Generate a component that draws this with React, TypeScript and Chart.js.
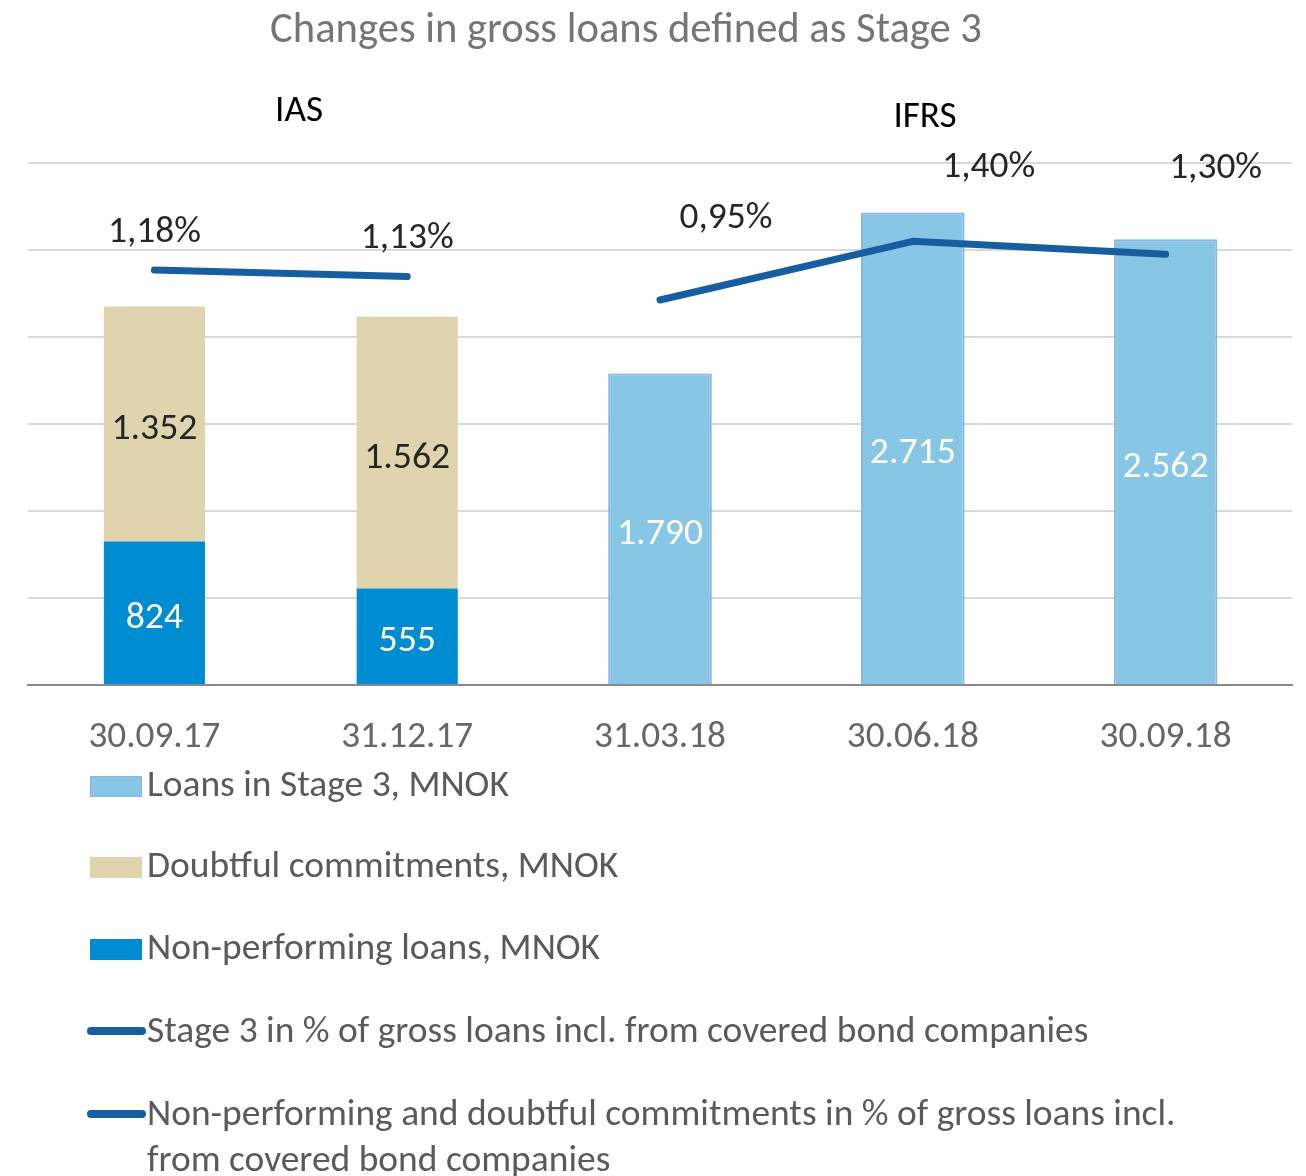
import React, { useEffect, useRef } from 'react';
import { Chart, registerables } from 'chart.js';

Chart.register(...registerables);

const FONT = 'Carlito, Lato, sans-serif';

// ---- data ----
const categories = ['30.09.17', '31.12.17', '31.03.18', '30.06.18', '30.09.18'];
const loansStage3 = [null, null, 1790, 2715, 2562];
const doubtfulCommitments = [1352, 1562, null, null, null];
const nonPerformingLoans = [824, 555, null, null, null];
const stage3Pct = [null, null, 0.95, 1.4, 1.3];
const npDoubtfulPct = [1.18, 1.13, null, null, null];

const yMin = 0;
const yMax = 3000;
const yStep = 500;
const pctMin = -2;
const pctMax = 2;

const chartTitle = 'Changes in gross loans defined as Stage 3';
const periodNames = ['IAS', 'IFRS'];

const labelLoans = 'Loans in Stage 3, MNOK';
const labelDoubtful = 'Doubtful commitments, MNOK';
const labelNpl = 'Non-performing loans, MNOK';
const labelStage3Pct = 'Stage 3 in % of gross loans incl. from covered bond companies';
const labelNpdPct =
  'Non-performing and doubtful commitments in % of gross loans incl. from covered bond companies';

// ---- styles ----
const C_LOANS = '#87c6e4';
const C_LOANS_BORDER = '#8db4e2';
const C_DOUBT = '#dfd4ae';
const C_NPL = '#008cd0';
const C_LINE = '#175ea0';
const C_GRID = '#d9d9d9';
const C_BASE = '#8a8a8a';
const C_TITLE = '#757575';
const C_TICK = '#666666';
const C_LEGEND = '#5a5a5a';
const C_DARK = '#262626';

const fmtInt = (v: number) => String(v).replace(/\B(?=(\d{3})+(?!\d))/g, '.');
const fmtPct = (v: number) => v.toFixed(2).replace('.', ',') + '%';

function fit(text: string, target: number): number {
  const c = document.createElement('canvas').getContext('2d')!;
  c.font = `100px ${FONT}`;
  return (100 * target) / c.measureText(text).width;
}

export default function App() {
  const ref = useRef<HTMLCanvasElement>(null);

  useEffect(() => {
    const s = {
      title: fit(chartTitle, 712),
      tick: fit('30.09.17', 132),
      bar: fit('1.352', 86),
      pct: fit('1,18%', 93),
      period: fit('IAS', 48),
      legend: fit(labelLoans, 362),
    };

    // label offsets for the percentage labels (relative to point, baseline)
    const pctOffsets = [
      [0, -28],
      [0, -29],
      [66, -72],
      [76, -64],
      [50, -76],
    ];

    const overlay = {
      id: 'overlay',
      afterDatasetsDraw(chart: any) {
        const ctx = chart.ctx as CanvasRenderingContext2D;
        ctx.save();
        ctx.textAlign = 'center';
        ctx.textBaseline = 'alphabetic';
        chart.data.datasets.forEach((ds: any, di: number) => {
          const meta = chart.getDatasetMeta(di);
          meta.data.forEach((el: any, i: number) => {
            const v = ds.data[i];
            if (v == null) return;
            if (meta.type === 'bar') {
              const p = el.getProps(['x', 'y', 'base'], true);
              ctx.font = `${s.bar}px ${FONT}`;
              ctx.fillStyle = ds.labelColor;
              ctx.fillText(fmtInt(v), p.x, (p.y + p.base) / 2 + 1.5 + 0.36 * s.bar);
            } else {
              const p = el.getProps(['x', 'y'], true);
              ctx.font = `${s.pct}px ${FONT}`;
              ctx.fillStyle = C_DARK;
              ctx.fillText(fmtPct(v), p.x + pctOffsets[i][0], p.y + pctOffsets[i][1]);
            }
          });
        });
        ctx.restore();
      },
      afterDraw(chart: any) {
        const ctx = chart.ctx as CanvasRenderingContext2D;
        ctx.save();
        ctx.textBaseline = 'alphabetic';
        // title
        ctx.textAlign = 'center';
        ctx.font = `${s.title}px ${FONT}`;
        ctx.fillStyle = C_TITLE;
        ctx.fillText(chartTitle, 626, 42);
        // period annotations
        ctx.font = `${s.period}px ${FONT}`;
        ctx.fillStyle = '#000000';
        ctx.fillText(periodNames[0], 299, 121);
        ctx.fillText(periodNames[1], 925, 127);

        // legend
        const items = [
          { label: labelLoans, kind: 'box', color: C_LOANS, border: C_LOANS_BORDER },
          { label: labelDoubtful, kind: 'box', color: C_DOUBT },
          { label: labelNpl, kind: 'box', color: C_NPL },
          { label: labelStage3Pct, kind: 'line', color: C_LINE },
          { label: labelNpdPct, kind: 'line', color: C_LINE },
        ];
        const baselines = [796, 877, 959, 1042, 1125];
        ctx.font = `${s.legend}px ${FONT}`;
        ctx.textAlign = 'left';
        items.forEach((it, k) => {
          const b = baselines[k];
          if (it.kind === 'box') {
            ctx.fillStyle = it.color;
            ctx.fillRect(90, b - 20, 52, 21);
            if (it.border) {
              ctx.strokeStyle = it.border;
              ctx.lineWidth = 1;
              ctx.strokeRect(90.5, b - 19.5, 51, 20);
            }
          } else {
            ctx.strokeStyle = it.color;
            ctx.lineWidth = 8;
            ctx.lineCap = 'round';
            ctx.beginPath();
            ctx.moveTo(91, b - 11);
            ctx.lineTo(142, b - 11);
            ctx.stroke();
          }
          // wrap text
          const words = it.label.split(' ');
          const lines: string[] = [];
          let cur = '';
          for (const w of words) {
            const t = cur ? cur + ' ' + w : w;
            if (ctx.measureText(t).width > 1060 && cur) {
              lines.push(cur);
              cur = w;
            } else cur = t;
          }
          if (cur) lines.push(cur);
          ctx.fillStyle = C_LEGEND;
          lines.forEach((ln, li) => ctx.fillText(ln, 147, b + li * 46));
        });
        ctx.restore();
      },
    };

    const lineDefaults = {
      type: 'line',
      yAxisID: 'y1',
      borderColor: C_LINE,
      backgroundColor: C_LINE,
      borderWidth: 7,
      pointRadius: 0,
      borderCapStyle: 'round',
      borderJoinStyle: 'round',
      fill: false,
      tension: 0,
      order: 0,
    };
    const barDefaults = {
      type: 'bar',
      yAxisID: 'y',
      stack: 's',
      barPercentage: 0.4,
      categoryPercentage: 1,
      order: 1,
    };

    const chart = new Chart(ref.current!, {
      data: {
        labels: categories,
        datasets: [
          { ...lineDefaults, label: labelStage3Pct, data: stage3Pct },
          { ...lineDefaults, label: labelNpdPct, data: npDoubtfulPct },
          { ...barDefaults, label: labelNpl, data: nonPerformingLoans, backgroundColor: C_NPL, labelColor: '#ffffff' },
          { ...barDefaults, label: labelDoubtful, data: doubtfulCommitments, backgroundColor: C_DOUBT, labelColor: C_DARK },
          {
            ...barDefaults,
            label: labelLoans,
            data: loansStage3,
            backgroundColor: C_LOANS,
            borderColor: C_LOANS_BORDER,
            borderWidth: 2,
            barPercentage: 0.41,
            labelColor: '#ffffff',
          },
        ],
      } as any,
      options: {
        responsive: false,
        animation: false,
        devicePixelRatio: 1,
        layout: { padding: { top: 163, left: 28, right: 14, bottom: 416 } },
        plugins: {
          legend: { display: false },
          title: { display: false },
          tooltip: { enabled: false },
        },
        scales: {
          x: {
            stacked: true,
            grid: { display: false, drawTicks: false },
            border: { display: true, color: C_BASE, width: 2 },
            ticks: {
              color: C_TICK,
              font: { family: FONT, size: s.tick },
              padding: 52.5 - 0.6 * s.tick,
              maxRotation: 0,
            },
            afterFit: (scale: any) => {
              scale.height = 75;
            },
          },
          y: {
            stacked: true,
            min: yMin,
            max: yMax,
            ticks: { display: false, stepSize: yStep },
            grid: {
              color: (c: any) => (c.tick && c.tick.value === 0 ? C_BASE : C_GRID),
              lineWidth: 2,
              drawTicks: false,
            },
            border: { display: false },
          },
          y1: {
            display: false,
            min: pctMin,
            max: pctMax,
            stacked: false,
          },
        },
      } as any,
      plugins: [overlay],
    });
    return () => chart.destroy();
  }, []);

  return (
    <div style={{ position: 'absolute', left: 0, top: 0, width: 1306, height: 1176, background: '#ffffff' }}>
      <canvas ref={ref} width={1306} height={1176} style={{ width: 1306, height: 1176, display: 'block' }} />
    </div>
  );
}
